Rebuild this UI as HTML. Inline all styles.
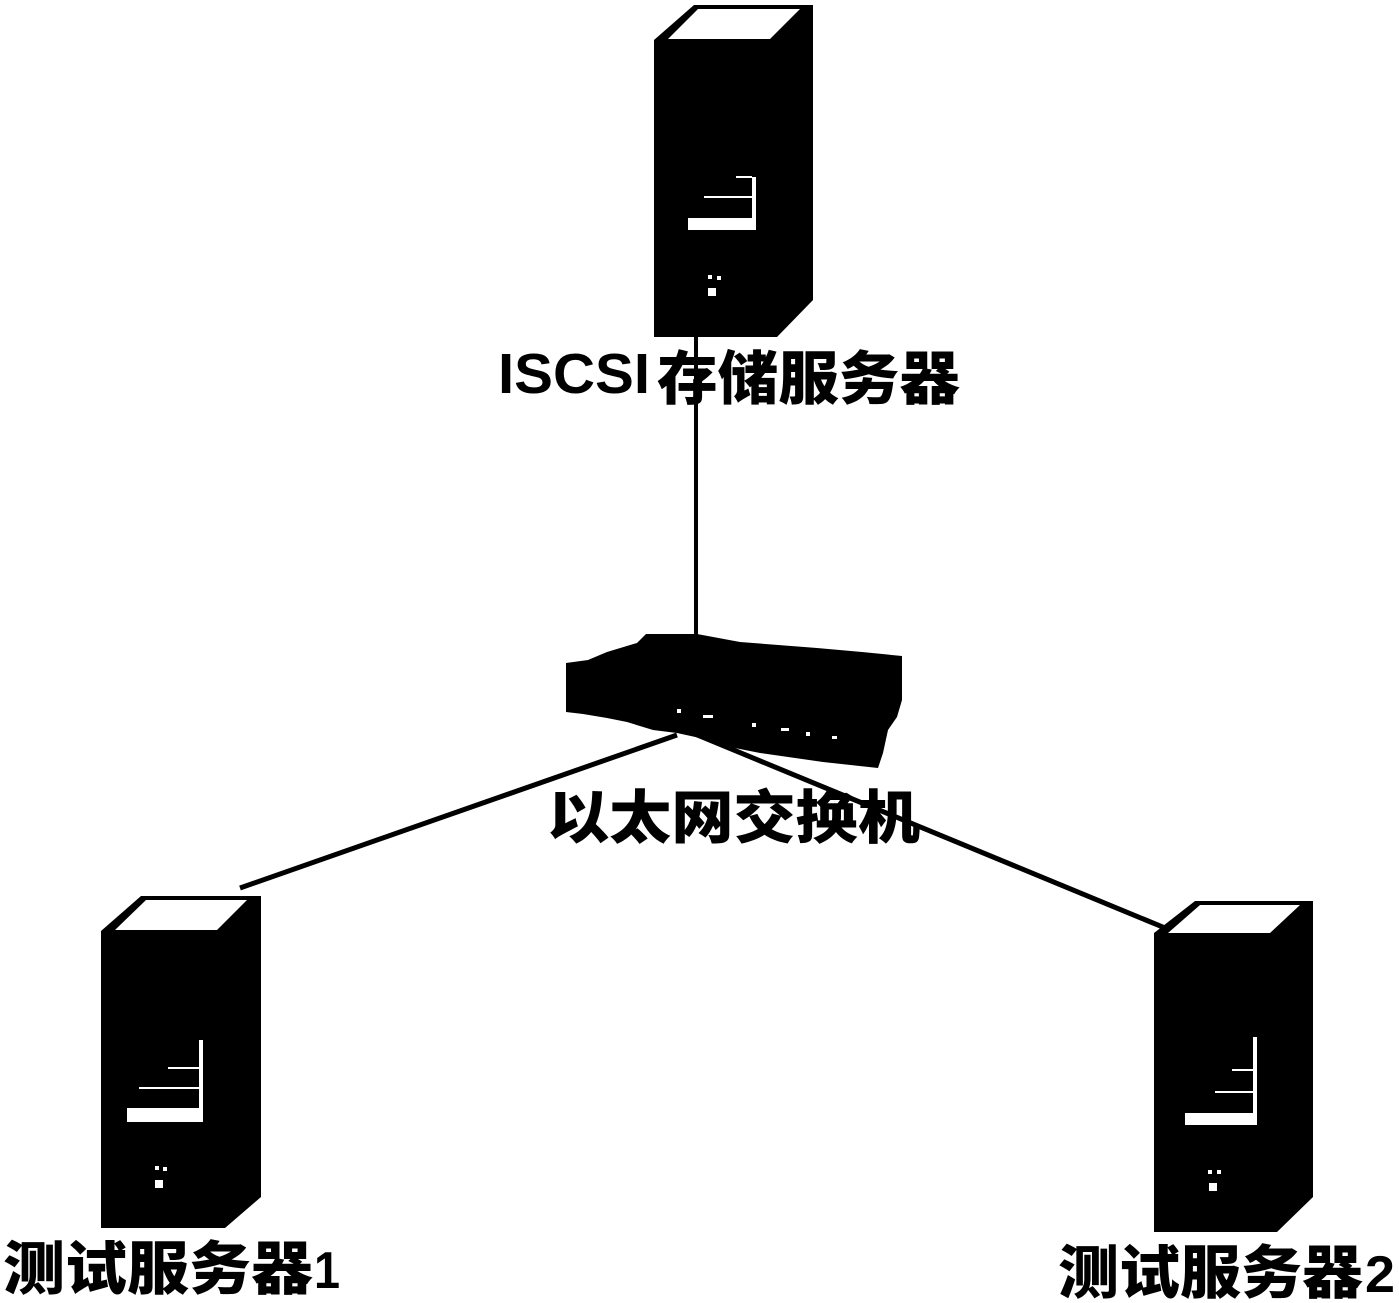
<!DOCTYPE html>
<html>
<head>
<meta charset="utf-8">
<style>
html,body{margin:0;padding:0;background:#fff;}
svg{display:block;}
text{font-family:"Liberation Sans","Noto Sans CJK SC",sans-serif;font-weight:900;fill:#000;}
</style>
</head>
<body>
<svg width="1399" height="1303" viewBox="0 0 1399 1303" xmlns="http://www.w3.org/2000/svg">
<rect width="1399" height="1303" fill="#fff"/>

<!-- connectors -->
<line x1="696" y1="335" x2="696" y2="640" stroke="#000" stroke-width="4"/>
<line x1="677" y1="735" x2="240" y2="888" stroke="#000" stroke-width="5"/>
<line x1="690" y1="732" x2="1170" y2="930" stroke="#000" stroke-width="5"/>

<!-- Top server (ISCSI) -->
<polygon points="654,40 694,5 813,5 813,300 777,337 654,337" fill="#000"/>
<polygon points="668,39 698,9 800,9 770,39" fill="#fff"/>
<rect x="752" y="177" width="4" height="53" fill="#fff"/>
<rect x="688" y="218" width="68" height="12" fill="#fff"/>
<rect x="704" y="196" width="51" height="2" fill="#fff"/>
<rect x="736" y="176" width="16" height="2" fill="#fff"/>
<rect x="708" y="275" width="4" height="4" fill="#fff"/>
<rect x="717" y="276" width="4" height="4" fill="#fff"/>
<rect x="708" y="288" width="8" height="8" fill="#fff"/>

<!-- Switch -->
<polygon points="566,663 588,660 607,652 637,643 646,634 697,634 740,642 817,648 862,652 902,656 902,700 897,717 888,730 883,753 878,768 823,762 760,753 720,745 700,738 677,733 653,730 627,722 607,718 583,714 566,712" fill="#000"/>
<rect x="677" y="709" width="4" height="4" fill="#fff"/>
<rect x="703" y="715" width="10" height="3" fill="#fff"/>
<rect x="752" y="723" width="4" height="4" fill="#fff"/>
<rect x="781" y="728" width="8" height="3" fill="#fff"/>
<rect x="806" y="732" width="4" height="4" fill="#fff"/>
<rect x="832" y="736" width="5" height="3" fill="#fff"/>

<!-- Server 1 (bottom-left) -->
<polygon points="101,931 141,896 261,896 261,1197 225,1228 101,1228" fill="#000"/>
<polygon points="115,930 146,900 247,900 217,930" fill="#fff"/>
<rect x="199" y="1040" width="4" height="82" fill="#fff"/>
<rect x="127" y="1108" width="76" height="14" fill="#fff"/>
<rect x="168" y="1067" width="35" height="2" fill="#fff"/>
<rect x="139" y="1087" width="61" height="2" fill="#fff"/>
<rect x="155" y="1166" width="4" height="4" fill="#fff"/>
<rect x="163" y="1167" width="4" height="4" fill="#fff"/>
<rect x="155" y="1180" width="8" height="8" fill="#fff"/>

<!-- Server 2 (bottom-right) -->
<polygon points="1154,933 1195,901 1313,901 1313,1197 1277,1232 1154,1232" fill="#000"/>
<polygon points="1168,933 1200,905 1300,905 1270,933" fill="#fff"/>
<rect x="1253" y="1037" width="4" height="88" fill="#fff"/>
<rect x="1185" y="1113" width="72" height="12" fill="#fff"/>
<rect x="1232" y="1069" width="24" height="2" fill="#fff"/>
<rect x="1215" y="1091" width="40" height="2" fill="#fff"/>
<rect x="1208" y="1170" width="4" height="4" fill="#fff"/>
<rect x="1217" y="1170" width="4" height="4" fill="#fff"/>
<rect x="1209" y="1183" width="8" height="8" fill="#fff"/>

<!-- Labels -->
<text x="498" y="393" font-size="57" textLength="152" lengthAdjust="spacingAndGlyphs">ISCSI</text>
<text x="657" y="399" font-size="58" textLength="303" lengthAdjust="spacingAndGlyphs">存储服务器</text>
<text x="547" y="838" font-size="58" textLength="373" lengthAdjust="spacingAndGlyphs">以太网交换机</text>
<text x="3" y="1289" font-size="58" textLength="310" lengthAdjust="spacingAndGlyphs">测试服务器</text>
<text x="314" y="1288" font-size="52" textLength="26" lengthAdjust="spacingAndGlyphs">1</text>
<text x="1058" y="1293" font-size="58" textLength="305" lengthAdjust="spacingAndGlyphs">测试服务器</text>
<text x="1365" y="1292" font-size="52" textLength="30" lengthAdjust="spacingAndGlyphs">2</text>
</svg>
</body>
</html>
